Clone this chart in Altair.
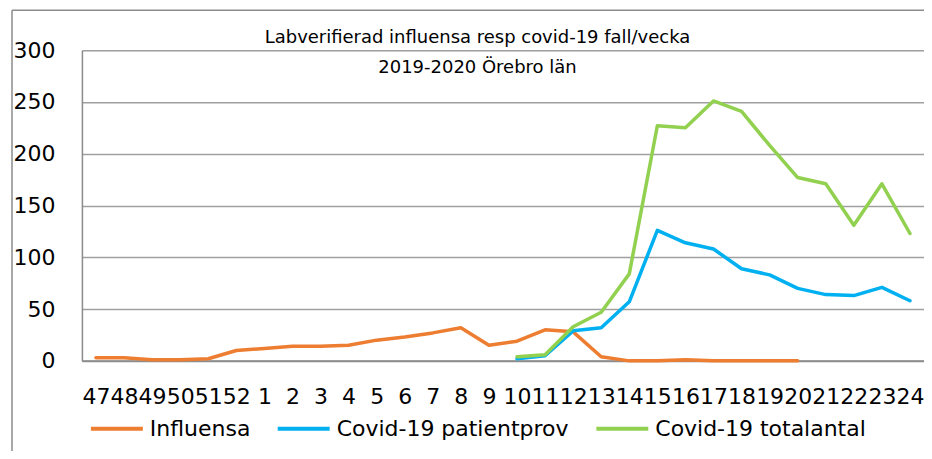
import altair as alt
import pandas as pd

weeks = ["47", "48", "49", "50", "51", "52", "1", "2", "3", "4", "5", "6", "7", "8", "9",
         "10", "11", "12", "13", "14", "15", "16", "17", "18", "19", "20", "21", "22", "23", "24"]

influensa = [3, 3, 1, 1, 2, 10, 12, 14, 14, 15, 20, 23, 27, 32, 15,
             19, 30, 28, 4, 0, 0, 1, 0, 0, 0, 0, None, None, None, None]
patientprov = [None] * 15 + [2, 5, 29, 32, 57, 126, 114, 108, 89, 83, 70, 64, 63, 71, 58]
totalantal = [None] * 15 + [4, 6, 33, 47, 84, 227, 225, 251, 241, 208, 177, 171, 131, 171, 123]

series_names = ["Influensa", "Covid-19 patientprov", "Covid-19 totalantal"]
series_colors = ["#ED7D31", "#00B0F0", "#92D050"]
y_ticks = [0, 50, 100, 150, 200, 250, 300]

title_line1 = "Labverifierad influensa resp covid-19 fall/vecka"
title_line2 = "2019-2020 Örebro län"

rows = []
for name, vals in zip(series_names, [influensa, patientprov, totalantal]):
    for w, v in zip(weeks, vals):
        if v is not None:
            rows.append({"Vecka": w, "Serie": name, "Antal": v})
df = pd.DataFrame(rows)

FONT = "DejaVu Sans"

lines = alt.Chart(df).mark_line(strokeWidth=3.5, strokeJoin="round", strokeCap="round").encode(
    x=alt.X("Vecka:N", sort=weeks, scale=alt.Scale(domain=weeks, paddingInner=0, paddingOuter=0.5),
            axis=alt.Axis(title=None, labelAngle=0, ticks=False, labelPadding=26, labelFontSize=22,
                          labelFont=FONT, labelColor="#000000", domainColor="#8c8c8c", domainWidth=2,
                          grid=False, labelOverlap=False, labelBound=False, labelFlush=False)),
    y=alt.Y("Antal:Q", scale=alt.Scale(domain=[0, 300], nice=False),
            axis=alt.Axis(title=None, values=y_ticks, ticks=False, labelPadding=27, labelFontSize=22,
                          labelFont=FONT, labelColor="#000000", domainColor="#8c8c8c", domainWidth=1.5,
                          gridColor="#a0a0a0", gridWidth=1.5)),
    color=alt.Color("Serie:N", scale=alt.Scale(domain=series_names, range=series_colors),
                    legend=alt.Legend(title=None, orient="none", direction="horizontal",
                                      legendX=7, legendY=351, symbolType="stroke", symbolSize=2704,
                                      symbolStrokeWidth=4, labelFontSize=22, labelFont=FONT,
                                      labelColor="#000000", labelOffset=5, columnPadding=19,
                                      labelLimit=400)),
)

title_df = pd.DataFrame({"t": [title_line1]})
t1 = alt.Chart(title_df).mark_text(font=FONT, fontSize=18, color="#000000", align="center",
                                   baseline="middle").encode(
    text="t:N", x=alt.value(396), y=alt.value(-12))
title_df2 = pd.DataFrame({"t": [title_line2]})
t2 = alt.Chart(title_df2).mark_text(font=FONT, fontSize=18, color="#000000", align="center",
                                    baseline="middle").encode(
    text="t:N", x=alt.value(396), y=alt.value(18))

frame_left = alt.Chart(title_df).mark_rule(color="#8c8c8c", strokeWidth=1.5).encode(
    x=alt.value(-70), y=alt.value(-40), y2=alt.value(420))
frame_top = alt.Chart(title_df).mark_rule(color="#8c8c8c", strokeWidth=1.5).encode(
    x=alt.value(-70), x2=alt.value(860), y=alt.value(-40))

chart = alt.layer(frame_left, frame_top, lines, t1, t2).properties(
    width=843, height=311,
    autosize=alt.AutoSizeParams(type="none"),
    padding={"left": 74, "top": 42, "right": 0, "bottom": 90},
).configure_view(stroke=None).configure(background="white")

chart.save("out.html", embed_options={"renderer": "svg", "actions": False})
